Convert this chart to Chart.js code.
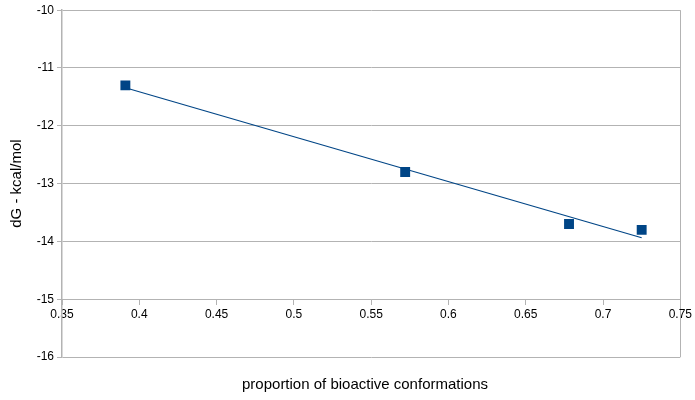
<!DOCTYPE html>
<html>
<head>
<meta charset="utf-8">
<script src="https://cdn.jsdelivr.net/npm/chart.js@4"></script>
<style>
  body { margin: 0; background: #fff; }
</style>
</head>
<body>
<canvas id="chart" width="695" height="400"></canvas>
<script>
// ---------------- DATA ----------------
const proportion = [0.391, 0.572, 0.678, 0.725];
const dG = [-11.3, -12.8, -13.7, -13.8];
const xTicks = [0.35, 0.4, 0.45, 0.5, 0.55, 0.6, 0.65, 0.7, 0.75];
const yTicks = [-16, -15, -14, -13, -12, -11, -10];

const GRID = '#b3b3b3';
const BLUE = '#004586';
const FONT = '"Liberation Sans", Arial, sans-serif';

// linear trend line through the points (least squares)
function trend(xs, ys) {
  const n = xs.length;
  const mx = xs.reduce((a, b) => a + b, 0) / n;
  const my = ys.reduce((a, b) => a + b, 0) / n;
  let sxy = 0, sxx = 0;
  xs.forEach((x, i) => { sxy += (x - mx) * (ys[i] - my); sxx += (x - mx) * (x - mx); });
  const k = sxy / sxx;
  const x0 = Math.min(...xs), x1 = Math.max(...xs);
  return [{ x: x0, y: my + k * (x0 - mx) }, { x: x1, y: my + k * (x1 - mx) }];
}

// x axis title sits at the bottom of the canvas, below the -16 line
const xTitle = {
  id: 'xTitle',
  afterDraw(chart) {
    const ctx = chart.ctx;
    ctx.save();
    ctx.font = '15px ' + FONT;
    ctx.fillStyle = '#000';
    ctx.textAlign = 'center';
    ctx.textBaseline = 'middle';
    ctx.fillText('proportion of bioactive conformations', 365, 385);
    ctx.restore();
  }
};

new Chart(document.getElementById('chart'), {
  type: 'scatter',
  data: {
    datasets: [
      {
        type: 'line',
        data: trend(proportion, dG),
        borderColor: BLUE,
        borderWidth: 1.2,
        pointRadius: 0,
        fill: false
      },
      {
        data: proportion.map((x, i) => ({ x: x, y: dG[i] })),
        pointStyle: 'rect',
        pointRadius: 7,
        backgroundColor: BLUE,
        borderColor: BLUE,
        borderWidth: 0
      }
    ]
  },
  options: {
    responsive: false,
    animation: false,
    layout: { padding: { left: 0, top: 7, right: 12, bottom: 43 } },
    plugins: {
      legend: { display: false },
      tooltip: { enabled: false }
    },
    scales: {
      x: {
        type: 'linear',
        position: { y: -15 },
        min: 0.35,
        max: 0.75,
        afterBuildTicks: s => { s.ticks = xTicks.map(v => ({ value: v })); },
        ticks: {
          color: '#000',
          font: { family: FONT, size: 12 },
          padding: 3,
          maxRotation: 0,
          autoSkip: false,
          callback: v => String(v)
        },
        grid: {
          color: ctx => (ctx.tick && ctx.tick.value === 0.75 ? GRID : 'rgba(0,0,0,0)'),
          tickColor: GRID,
          tickLength: 5,
          lineWidth: 1
        },
        border: { color: GRID, width: 1 }
      },
      y: {
        min: -16,
        max: -10,
        afterBuildTicks: s => { s.ticks = yTicks.map(v => ({ value: v })); },
        afterFit: s => { s.width = 62; },
        ticks: {
          color: '#000',
          font: { family: FONT, size: 12 },
          padding: 3,
          callback: v => String(v)
        },
        grid: {
          color: GRID,
          tickColor: GRID,
          tickLength: 5,
          lineWidth: 1
        },
        border: { color: GRID, width: 1.5 },
        title: {
          display: true,
          text: 'dG - kcal/mol',
          color: '#000',
          font: { family: FONT, size: 15 },
          padding: { top: 8, bottom: 0 }
        }
      }
    }
  },
  plugins: [xTitle]
});
</script>
</body>
</html>
